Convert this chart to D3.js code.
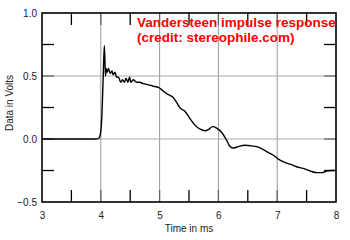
<!DOCTYPE html>
<html>
<head>
<meta charset="utf-8">
<script src="https://cdn.jsdelivr.net/npm/d3@7"></script>
<style>
  body { margin: 0; background: #fff; }
  svg { display: block; }
  text { font-family: "Liberation Sans", Arial, sans-serif; }
</style>
</head>
<body>
<svg id="chart" width="350" height="240"></svg>
<script>
// impulse response
var timeMs = [3.0, 3.5, 3.9, 3.96, 3.98, 4.0, 4.02, 4.04, 4.06, 4.07, 4.08, 4.09, 4.11, 4.13, 4.16, 4.19,
  4.21, 4.24, 4.27, 4.30, 4.34, 4.37, 4.40, 4.43, 4.46, 4.49, 4.51, 4.55, 4.61, 4.66, 4.72, 4.81,
  4.89, 4.98, 5.04, 5.12, 5.18, 5.23, 5.29, 5.35, 5.43, 5.52, 5.60, 5.69, 5.77, 5.83, 5.90, 5.97,
  6.06, 6.14, 6.19, 6.25, 6.34, 6.45, 6.57, 6.69, 6.82, 6.93, 7.02, 7.10, 7.22, 7.33, 7.44, 7.56,
  7.67, 7.76, 7.84, 7.92, 8.0];
var volts = [0, 0, 0, 0.003, 0.015, 0.06, 0.2, 0.48, 0.74, 0.62, 0.5, 0.56, 0.53, 0.56, 0.52, 0.54,
  0.51, 0.53, 0.49, 0.49, 0.45, 0.47, 0.45, 0.48, 0.45, 0.49, 0.45, 0.47, 0.45, 0.45, 0.44, 0.43,
  0.42, 0.41, 0.39, 0.36, 0.345, 0.33, 0.29, 0.245, 0.22, 0.16, 0.11, 0.078, 0.066, 0.075, 0.098, 0.087,
  0.05, -0.01, -0.055, -0.072, -0.06, -0.05, -0.055, -0.066, -0.10, -0.127, -0.16, -0.18, -0.20, -0.22, -0.233, -0.254,
  -0.267, -0.267, -0.254, -0.25, -0.25];

var xMajor = [3, 4, 5, 6, 7, 8];
var xMinor = [3.5, 4.5, 5.5, 6.5, 7.5];
var yMajor = [-0.5, 0, 0.5, 1.0];
var yMinor = [-0.25, 0.25, 0.75];
var titleLines = ["Vandersteen impulse response", "(credit: stereophile.com)"];

var pLeft = 42, pRight = 336, pTop = 13, pBottom = 202;
var tickLen = 12;
var svg = d3.select("#chart");

var x = d3.scaleLinear().domain([3, 8]).range([pLeft, pRight]);
var y = d3.scaleLinear().domain([-0.5, 1.0]).range([pBottom, pTop]);

// grid
svg.append("g").selectAll("line")
  .data(xMajor.slice(1, -1))
  .enter().append("line")
  .attr("x1", d => x(d)).attr("x2", d => x(d))
  .attr("y1", pTop).attr("y2", pBottom)
  .style("stroke", "#9a9a9a").style("stroke-width", 1);
svg.append("g").selectAll("line")
  .data(yMajor.slice(1, -1))
  .enter().append("line")
  .attr("x1", pLeft).attr("x2", pRight)
  .attr("y1", d => y(d)).attr("y2", d => y(d))
  .style("stroke", "#a8a8a8").style("stroke-width", 1);

// inward ticks, top + bottom and left + right
function xTicks(vals, color) {
  [[pBottom, -tickLen], [pTop, tickLen]].forEach(function (p) {
    svg.append("g").selectAll("line")
      .data(vals)
      .enter().append("line")
      .attr("x1", d => x(d)).attr("x2", d => x(d))
      .attr("y1", p[0]).attr("y2", p[0] + p[1])
      .style("stroke", color).style("stroke-width", 1.3);
  });
}
function yTicks(vals, color) {
  [[pLeft, tickLen], [pRight, -tickLen]].forEach(function (p) {
    svg.append("g").selectAll("line")
      .data(vals)
      .enter().append("line")
      .attr("y1", d => y(d)).attr("y2", d => y(d))
      .attr("x1", p[0]).attr("x2", p[0] + p[1])
      .style("stroke", color).style("stroke-width", 1.3);
  });
}
xTicks(xMinor, "#000");
yTicks(yMinor, "#000");
xTicks(xMajor.slice(1, -1), "#666");
yTicks(yMajor.slice(1, -1), "#666");

// tick labels
var xAxis = svg.append("g").attr("transform", `translate(0,${pBottom})`)
  .call(d3.axisBottom(x).tickValues(xMajor).tickSize(0).tickPadding(10).tickFormat(d3.format("d")));
xAxis.select(".domain").remove();
xAxis.selectAll("text").style("font-size", "10px").style("fill", "#222")
  .style("font-family", "Liberation Sans, Arial, sans-serif");

var yAxis = svg.append("g").attr("transform", `translate(${pLeft},0)`)
  .call(d3.axisLeft(y).tickValues(yMajor).tickSize(0).tickPadding(5).tickFormat(d3.format(".1f")));
yAxis.select(".domain").remove();
yAxis.selectAll("text").style("font-size", "10px").style("fill", "#222")
  .style("font-family", "Liberation Sans, Arial, sans-serif");

// curve
var line = d3.line().x((d, i) => x(timeMs[i])).y(d => y(d)).curve(d3.curveMonotoneX);
svg.append("path")
  .datum(volts)
  .attr("d", line)
  .style("fill", "none")
  .style("stroke", "#000")
  .style("stroke-width", 1.4)
  .style("stroke-linejoin", "round");

// frame
svg.append("rect")
  .attr("x", pLeft).attr("y", pTop)
  .attr("width", pRight - pLeft).attr("height", pBottom - pTop)
  .style("fill", "none").style("stroke", "#000").style("stroke-width", 1.6);

// axis titles
svg.append("text")
  .attr("x", (pLeft + pRight) / 2).attr("y", 232)
  .attr("text-anchor", "middle")
  .style("font-size", "10px").style("fill", "#222")
  .text("Time in ms");
svg.append("text")
  .attr("transform", "translate(13,103) rotate(-90)")
  .attr("text-anchor", "middle")
  .style("font-size", "10px").style("fill", "#222")
  .text("Data in Volts");

// title in red
svg.append("g").selectAll("text")
  .data(titleLines)
  .enter().append("text")
  .attr("x", 137)
  .attr("y", (d, i) => 27 + i * 15)
  .style("font-size", "13.5px").style("font-weight", "bold").style("fill", "#ff0000")
  .text(d => d);
</script>
</body>
</html>
